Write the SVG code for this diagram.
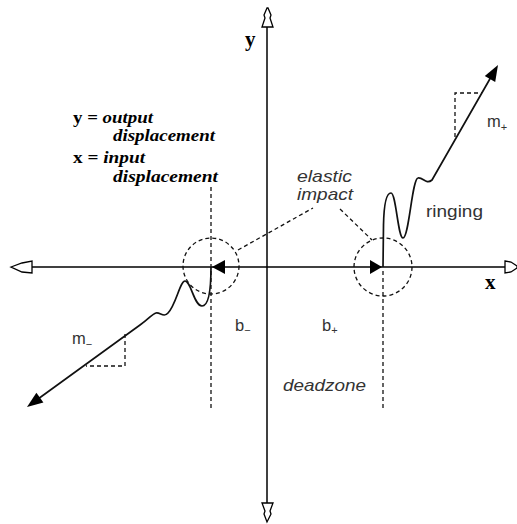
<svg xmlns="http://www.w3.org/2000/svg" width="517" height="524" viewBox="0 0 517 524">
<style>
.axis{stroke:#000;stroke-width:1.5;fill:none}
.open{fill:#fff;stroke:#000;stroke-width:1.3;stroke-linejoin:miter}
.solid{fill:#000;stroke:none}
.curve{stroke:#111;stroke-width:1.7;fill:none;stroke-linejoin:round}
.dash{stroke:#111;stroke-width:1.3;fill:none;stroke-dasharray:4 3}
.sans{font-family:"Liberation Sans",Arial,sans-serif;font-size:16.5px;fill:#333}
.ital{font-style:italic}
.leg{font-family:"Liberation Serif","Times New Roman",serif;font-size:16px;font-weight:bold;fill:#000}
.axlab{font-family:"Liberation Serif","Times New Roman",serif;font-size:21px;font-weight:bold;fill:#000}
.sub{font-size:11px}
</style>
<g id="axes">
<line class="axis" x1="32" y1="267" x2="505" y2="267"/>
<line class="axis" x1="267" y1="27" x2="267" y2="503"/>
<polygon class="open" points="11,267 22,263 32,261 32,273 22,272"/>
<polygon class="open" points="505,261 511,262 517,266 517,268 511,272 505,273"/>
<polygon class="open" points="267,8 264,15 265,18 262,27 273,27 270,18 271,15 268,8"/>
<polygon class="open" points="262,503 273,503 270,511 271,514 267,522 264,514 265,511"/>
<text class="axlab" x="245" y="46">y</text>
<text class="axlab" x="485" y="289">x</text>
</g>
<g id="connectors">
<line class="dash" x1="211" y1="187" x2="211" y2="410"/>
<line class="dash" x1="383" y1="271" x2="383" y2="410"/>
<circle class="dash" cx="211" cy="266" r="28"/>
<circle class="dash" cx="383" cy="267" r="29"/>
<line class="dash" x1="238" y1="250" x2="313" y2="208"/>
<line class="dash" x1="340" y1="209" x2="372" y2="240"/>
<polyline class="dash" points="455,137 455,93 482,93"/>
<polyline class="dash" points="125,334 125,366 86,366"/>
</g>
<g id="positive-branch">
<path class="curve" d="M383,267 L383.5,225 C384,200 387,193 391,193 C396,193 398,238 403,238 C409,238 412,179 418,178 C423,177 426,185 432,180 L491,77"/>
<polygon class="solid" points="498,65 495.2,81.9 484.8,75.9"/>
<polygon class="solid" points="382,267 370,260 370,274"/>
</g>
<g id="negative-branch">
<path class="curve" d="M211,267 C211,290 209,306 202,306 C194,306 191,281 185,281 C180,281 176,305 168,313 C164,318 160,312 156,313 C152,314 150,318 140,325 L38,399"/>
<polygon class="solid" points="27,407 43.4,402.5 36.4,392.7"/>
<polygon class="solid" points="212,267 225,260 225,274"/>
</g>
<g id="labels">
<text class="leg" x="73" y="123" textLength="80" lengthAdjust="spacingAndGlyphs">y = <tspan font-style="italic">output</tspan></text>
<text class="leg ital" x="113" y="141" textLength="102" lengthAdjust="spacingAndGlyphs">displacement</text>
<text class="leg" x="73" y="163" textLength="72" lengthAdjust="spacingAndGlyphs">x = <tspan font-style="italic">input</tspan></text>
<text class="leg ital" x="113" y="182" textLength="105" lengthAdjust="spacingAndGlyphs">displacement</text>
<text class="sans ital" x="297" y="182" textLength="55" lengthAdjust="spacingAndGlyphs">elastic</text>
<text class="sans ital" x="297" y="200" textLength="56" lengthAdjust="spacingAndGlyphs">impact</text>
<text class="sans" x="426" y="217" textLength="57" lengthAdjust="spacingAndGlyphs">ringing</text>
<text class="sans ital" x="283" y="391" textLength="83" lengthAdjust="spacingAndGlyphs">deadzone</text>
<text class="sans" x="487" y="127">m<tspan class="sub" dy="4">+</tspan></text>
<text class="sans" x="72" y="344">m<tspan class="sub" dy="4">−</tspan></text>
<text class="sans" x="235" y="331">b<tspan class="sub" dy="3">−</tspan></text>
<text class="sans" x="322" y="331">b<tspan class="sub" dy="3">+</tspan></text>
</g>
</svg>
